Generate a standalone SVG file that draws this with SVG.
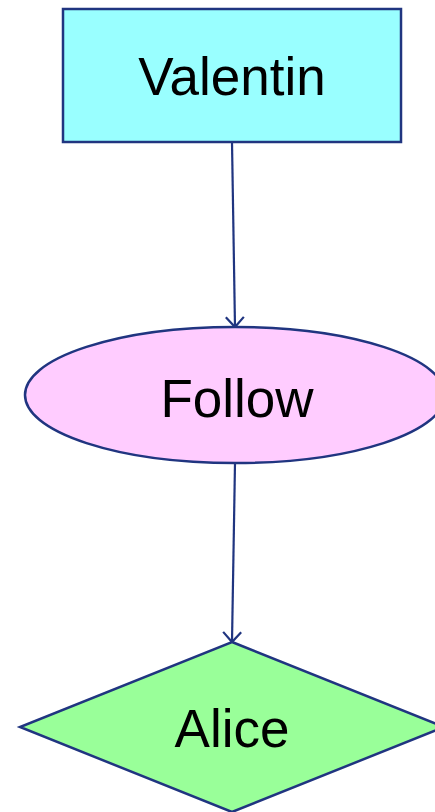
<svg xmlns="http://www.w3.org/2000/svg" width="435" height="812" viewBox="0 0 435 812">
<style>
.shape{stroke:#203580;stroke-width:2.5}
.lbl{font-family:"Liberation Sans",Arial,sans-serif;font-size:53px;fill:#000;text-anchor:middle}
.edge{stroke:#203580;stroke-width:2.2;fill:none}
</style>
<defs>
<marker id="arr" viewBox="-12 -10 14 20" markerWidth="14" markerHeight="20" refX="0" refY="0" orient="auto" markerUnits="userSpaceOnUse">
<path d="M-10,-9 L0,0 L-10,9" fill="none" stroke="#203580" stroke-width="2.2"/>
</marker>
</defs>
<rect width="435" height="812" fill="#fff"/>
<g id="edges">
<line class="edge" x1="232" y1="142" x2="235" y2="327" marker-end="url(#arr)"/>
<line class="edge" x1="235" y1="463" x2="232" y2="642" marker-end="url(#arr)"/>
</g>
<g id="valentin">
<rect class="shape" x="63" y="9" width="338" height="133" fill="#99ffff"/>
<text class="lbl" x="232" y="95">Valentin</text>
</g>
<g id="follow">
<ellipse class="shape" cx="235" cy="395" rx="210" ry="68" fill="#ffccff"/>
<text class="lbl" x="237" y="417">Follow</text>
</g>
<g id="alice">
<polygon class="shape" points="232,642 444,727 232,812 20,727" fill="#99ff99"/>
<text class="lbl" x="232" y="747">Alice</text>
</g>
</svg>
